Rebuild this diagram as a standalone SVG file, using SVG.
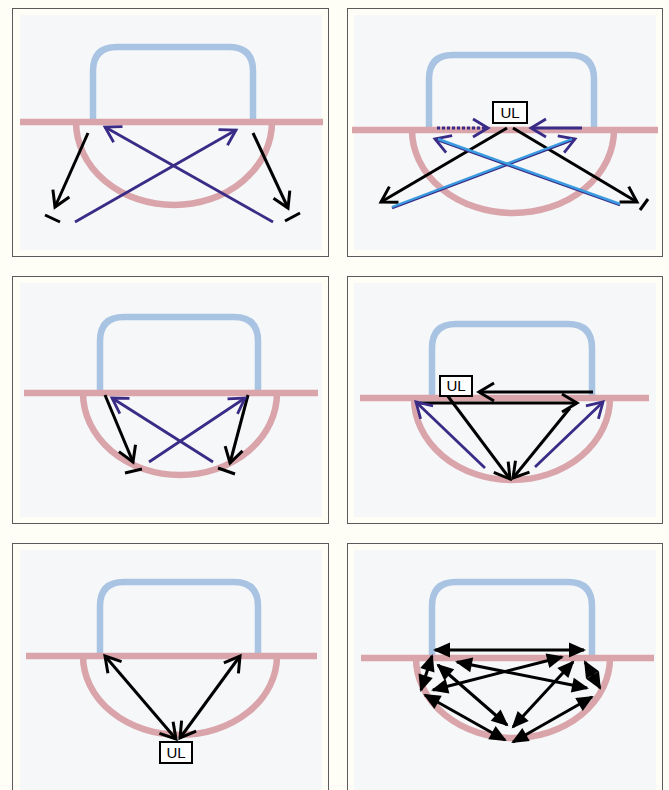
<svg xmlns="http://www.w3.org/2000/svg" width="669" height="790" viewBox="0 0 669 790">
<style>
.frame{fill:#fffef6;stroke:#5a5a5a;stroke-width:1}
.inner{fill:#f6f7f9}
.blue{fill:none;stroke:#a9c3e3;stroke-width:6.5}
.red{fill:none;stroke:#d9a5aa;stroke-width:6.5}
.k{fill:none;stroke:#000;stroke-width:3}
.p{fill:none;stroke:#3a2b86;stroke-width:2.8}
.lb{fill:none;stroke:#3a9be0;stroke-width:2.4}
.box{fill:#fff;stroke:#000;stroke-width:2}
.lbl{font-family:"Liberation Sans",Arial,sans-serif;font-size:15px;fill:#000}
</style>
<defs>
<marker id="ak" viewBox="-20 -12 24 24" markerWidth="24" markerHeight="24" refX="0" refY="0" orient="auto-start-reverse" markerUnits="userSpaceOnUse"><path d="M-15,-9 L0,0 L-15,9" fill="none" stroke="#000" stroke-width="3"/></marker>
<marker id="ap" viewBox="-20 -12 24 24" markerWidth="24" markerHeight="24" refX="0" refY="0" orient="auto-start-reverse" markerUnits="userSpaceOnUse"><path d="M-15,-9 L0,0 L-15,9" fill="none" stroke="#3a2b86" stroke-width="2.8"/></marker>
<marker id="at" viewBox="-20 -10 24 20" markerWidth="24" markerHeight="20" refX="-2" refY="0" orient="auto-start-reverse" markerUnits="userSpaceOnUse"><path d="M-17,-7.5 L0,0 L-17,7.5 Z" fill="#000"/></marker>
</defs>
<rect x="0" y="0" width="669" height="790" fill="#fffef6"/>

<!-- Panel 1 -->
<g id="panel1">
<rect class="frame" x="12.5" y="8.5" width="316" height="248"/>
<rect class="inner" x="20" y="15" width="302" height="235"/>
<path class="blue" d="M93,122 V71 Q93,47 117,47 H229 Q253,47 253,71 V122"/>
<line class="red" x1="20" y1="122" x2="323" y2="122"/>
<path class="red" d="M76,122 A98,83 0 0 0 272,122"/>
<g id="connectors1">
<line class="k" x1="88" y1="133" x2="55" y2="207" marker-end="url(#ak)"/>
<line class="k" x1="253" y1="133" x2="288" y2="208" marker-end="url(#ak)"/>
<line class="k" x1="45" y1="215" x2="60" y2="222"/>
<line class="k" x1="285" y1="221" x2="300" y2="213"/>
<line class="p" x1="75" y1="222" x2="236" y2="130" marker-end="url(#ap)"/>
<line class="p" x1="273" y1="222" x2="105" y2="127" marker-end="url(#ap)"/>
</g>
</g>

<!-- Panel 2 -->
<g id="panel2">
<rect class="frame" x="347.5" y="8.5" width="315" height="248"/>
<rect class="inner" x="354" y="15" width="302" height="235"/>
<path class="blue" d="M429,130 V79 Q429,55 453,55 H570 Q594,55 594,79 V130"/>
<line class="red" x1="352" y1="130" x2="658" y2="130"/>
<path class="red" d="M412,130 A101,83 0 0 0 614,130"/>
<g id="connectors2">
<line class="k" x1="507" y1="128" x2="381" y2="202" marker-end="url(#ak)"/>
<line class="k" x1="513" y1="128" x2="637" y2="202" marker-end="url(#ak)"/>
<line class="k" x1="640" y1="210" x2="648" y2="199"/>
<line class="p" x1="437" y1="128" x2="488" y2="128" stroke-width="3.2" stroke-dasharray="3 2" marker-end="url(#ap)"/>
<line class="p" x1="582" y1="128" x2="531" y2="128" stroke-width="3.2" marker-end="url(#ap)"/>
<line class="p" x1="392" y1="208" x2="575" y2="139" marker-end="url(#ap)"/>
<line class="lb" x1="392" y1="207" x2="572" y2="139"/>
<line class="p" x1="620" y1="205" x2="435" y2="139" marker-end="url(#ap)"/>
<line class="lb" x1="620" y1="204" x2="438" y2="139"/>
</g>
<g id="ul2">
<rect class="box" x="493" y="102" width="34" height="21"/>
<text class="lbl" x="510" y="118" text-anchor="middle">UL</text>
</g>
</g>

<!-- Panel 3 -->
<g id="panel3">
<rect class="frame" x="12.5" y="276.5" width="316" height="247"/>
<rect class="inner" x="20" y="283" width="302" height="234"/>
<path class="blue" d="M100,393 V341 Q100,317 124,317 H234 Q258,317 258,341 V393"/>
<line class="red" x1="24" y1="393" x2="318" y2="393"/>
<path class="red" d="M83,393 A97,82 0 0 0 277,393"/>
<g id="connectors3">
<line class="k" x1="105" y1="395" x2="133" y2="462" marker-end="url(#ak)"/>
<line class="k" x1="248" y1="395" x2="230" y2="463" marker-end="url(#ak)"/>
<line class="k" x1="125" y1="473" x2="142" y2="469"/>
<line class="k" x1="218" y1="468" x2="235" y2="474"/>
<line class="p" x1="149" y1="462" x2="245" y2="398" marker-end="url(#ap)"/>
<line class="p" x1="213" y1="462" x2="112" y2="398" marker-end="url(#ap)"/>
</g>
</g>

<!-- Panel 4 -->
<g id="panel4">
<rect class="frame" x="347.5" y="276.5" width="315" height="247"/>
<rect class="inner" x="354" y="283" width="302" height="234"/>
<path class="blue" d="M432,398 V348 Q432,324 456,324 H568 Q592,324 592,348 V398"/>
<line class="red" x1="360" y1="398" x2="649" y2="398"/>
<path class="red" d="M414,398 A98,82 0 0 0 610,398"/>
<g id="connectors4">
<line class="k" x1="593" y1="392" x2="479" y2="392" marker-end="url(#ak)"/>
<line class="k" x1="420" y1="403" x2="577" y2="403" marker-end="url(#ak)"/>
<line class="k" x1="447" y1="395" x2="510" y2="479" marker-end="url(#ak)"/>
<line class="k" x1="570" y1="408" x2="513" y2="478" marker-end="url(#ak)"/>
<line class="p" x1="485" y1="468" x2="416" y2="402" marker-end="url(#ap)"/>
<line class="p" x1="535" y1="467" x2="603" y2="402" marker-end="url(#ap)"/>
</g>
<g id="ul4">
<rect class="box" x="440" y="376" width="32" height="20"/>
<text class="lbl" x="456" y="391" text-anchor="middle">UL</text>
</g>
</g>

<!-- Panel 5 -->
<g id="panel5">
<rect class="frame" x="12.5" y="543.5" width="316" height="252"/>
<rect class="inner" x="20" y="550" width="302" height="245"/>
<path class="blue" d="M100,656 V606 Q100,582 124,582 H234 Q258,582 258,606 V656"/>
<line class="red" x1="26" y1="656" x2="317" y2="656"/>
<path class="red" d="M83,656 A97,79 0 0 0 277,656"/>
<g id="connectors5">
<line class="k" x1="105" y1="656" x2="176" y2="739" marker-start="url(#ak)" marker-end="url(#ak)"/>
<line class="k" x1="240" y1="656" x2="180" y2="738" marker-start="url(#ak)" marker-end="url(#ak)"/>
</g>
<g id="ul5">
<rect class="box" x="160" y="742" width="32" height="21"/>
<text class="lbl" x="176" y="758" text-anchor="middle">UL</text>
</g>
</g>

<!-- Panel 6 -->
<g id="panel6">
<rect class="frame" x="347.5" y="543.5" width="315" height="252"/>
<rect class="inner" x="354" y="550" width="302" height="245"/>
<path class="blue" d="M432,658 V606 Q432,582 456,582 H568 Q592,582 592,606 V658"/>
<line class="red" x1="361" y1="658" x2="654" y2="658"/>
<path class="red" d="M416,658 A97,80 0 0 0 610,658"/>
<g id="connectors6">
<line class="k" x1="435" y1="650" x2="584" y2="650" marker-start="url(#at)" marker-end="url(#at)"/>
<line class="k" x1="432" y1="656" x2="421" y2="690" marker-start="url(#at)" marker-end="url(#at)"/>
<line class="k" x1="433" y1="690" x2="562" y2="657" marker-start="url(#at)" marker-end="url(#at)"/>
<line class="k" x1="457" y1="662" x2="587" y2="688" marker-start="url(#at)" marker-end="url(#at)"/>
<line class="k" x1="438" y1="665" x2="507" y2="725" marker-start="url(#at)" marker-end="url(#at)"/>
<line class="k" x1="573" y1="662" x2="513" y2="727" marker-start="url(#at)" marker-end="url(#at)"/>
<line class="k" x1="585" y1="662" x2="600" y2="688" marker-start="url(#at)" marker-end="url(#at)"/>
<line class="k" x1="425" y1="695" x2="505" y2="740" marker-start="url(#at)" marker-end="url(#at)"/>
<line class="k" x1="592" y1="697" x2="513" y2="742" marker-start="url(#at)" marker-end="url(#at)"/>
</g>
</g>
</svg>
